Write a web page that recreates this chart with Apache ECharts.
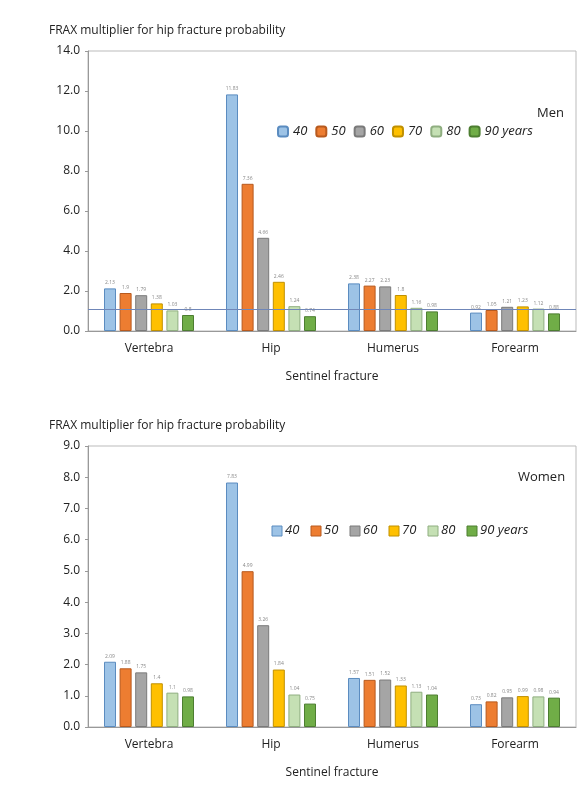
<!DOCTYPE html><html><head><meta charset="utf-8"><script src="https://cdn.jsdelivr.net/npm/echarts@6/dist/echarts.min.js"></script></head><body style="margin:0"><div id="c" style="width:588px;height:800px"></div><script>
const categories=['Vertebra','Hip','Humerus','Forearm'];
const ages=['40','50','60','70','80','90 years'];
const men=[[2.13,11.83,2.38,0.92],[1.9,7.36,2.27,1.05],[1.79,4.66,2.23,1.21],[1.38,2.46,1.80,1.23],[1.03,1.24,1.16,1.12],[0.80,0.74,0.98,0.88]];
const women=[[2.09,7.83,1.57,0.73],[1.88,4.99,1.51,0.82],[1.75,3.26,1.52,0.95],[1.4,1.84,1.33,0.99],[1.1,1.04,1.13,0.98],[0.98,0.75,1.04,0.94]];
const menRef=1.1;
const colors=['#9dc3e6','#ed7d31','#a5a5a5','#ffc000','#c5e0b4','#70ad47'];
const borders=['#5b8cc0','#b85a1e','#7a7a7a','#c09000','#8fae80','#4d7e31'];
const ch=echarts.init(document.getElementById('c'));
const f='Open Sans';
function series(data,i,g,ref){
 return data.map((d,k)=>({type:'bar',name:ages[k],xAxisIndex:g,yAxisIndex:g,data:d,barWidth:12,barGap:'30%',
  itemStyle:{color:colors[k],borderColor:borders[k],borderWidth:1},
  label:{show:true,position:'top',fontSize:5,color:'#888',distance:3,formatter:p=>String(p.value)},
  markLine:(k==0&&ref)?{symbol:'none',silent:true,label:{show:false},lineStyle:{color:'#6f86b8',width:1,type:'solid'},data:[{yAxis:ref}]}:undefined}));
}
const xa=g=>({type:'category',gridIndex:g,data:categories,axisTick:{show:false},axisLine:{lineStyle:{color:'#999'}},axisLabel:{fontFamily:f,fontSize:12,color:'#222',margin:12},
 name:'Sentinel fracture',nameLocation:'middle',nameGap:40,nameTextStyle:{fontFamily:f,fontSize:12,color:'#222'}});
const ya=(g,max,iv)=>({type:'value',gridIndex:g,min:0,max:max,interval:iv,axisLine:{show:true,lineStyle:{color:'#999'}},axisTick:{show:true,length:3},splitLine:{show:false},
 axisLabel:{fontFamily:f,fontSize:12,color:'#222',formatter:v=>v.toFixed(1)}});
const leg=(top,g)=>({top:top,left:272,itemWidth:10,itemHeight:10,itemGap:8,textStyle:{fontFamily:f,fontSize:13,fontStyle:'italic',color:'#222'},data:ages,selectedMode:false});
ch.setOption({
 textStyle:{fontFamily:f},
 title:[{text:'FRAX multiplier for hip fracture probability',left:44,top:20,textStyle:{fontFamily:f,fontSize:12,fontWeight:'normal',color:'#222'}},
  {text:'FRAX multiplier for hip fracture probability',left:44,top:415,textStyle:{fontFamily:f,fontSize:12,fontWeight:'normal',color:'#222'}},
  {text:'Men',left:532,top:102,textStyle:{fontFamily:f,fontSize:13,fontWeight:'normal',color:'#222'}},
  {text:'Women',left:513,top:466,textStyle:{fontFamily:f,fontSize:13,fontWeight:'normal',color:'#222'}}],
 legend:[leg(120,0)],
 grid:[{left:88,right:12,top:51,height:280,show:true,borderColor:'#bbb'},{left:88,right:12,top:446,height:281,show:true,borderColor:'#bbb'}],
 xAxis:[xa(0),xa(1)],yAxis:[ya(0,14,2),ya(1,9,1)],
 series:[...series(men,0,0,menRef),...series(women,0,1,null)]
});
// second legend via graphic
const gl=[];let x=272;
ages.forEach((a,k)=>{gl.push({type:'rect',shape:{x:x,y:526,width:10,height:10},style:{fill:colors[k],stroke:borders[k]}});
 const w=echarts.format.getTextRect?0:0;
 gl.push({type:'text',x:x+13,y:524,style:{text:a,font:'italic 13px "Open Sans"',fill:'#222'}});
 x+=13+(a.length*8)+10;});
ch.setOption({graphic:gl});
</script></body></html>
